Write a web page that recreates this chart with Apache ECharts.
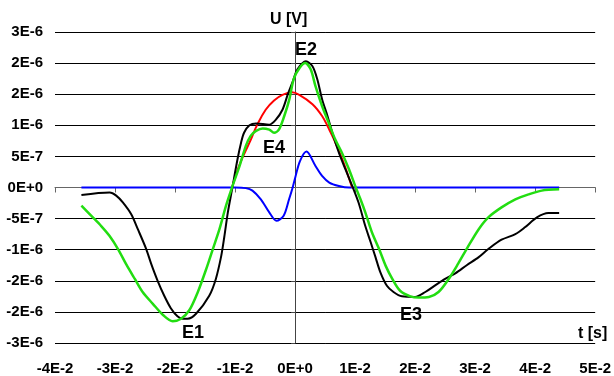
<!DOCTYPE html>
<html>
<head>
<meta charset="utf-8">
<script src="https://cdn.jsdelivr.net/npm/echarts@6/dist/echarts.min.js"></script>
<style>
html,body{margin:0;padding:0;background:#fff;}
#chart{width:614px;height:376px;}
</style>
</head>
<body>
<div id="chart"></div>
<script>
// time in units of 1E-2 s, voltage in units of 1E-6 V
var xTickLabels = ['-4E-2','-3E-2','-2E-2','-1E-2','0E+0','1E-2','2E-2','3E-2','4E-2','5E-2'];
var yTickLabels = ['-3E-6','-2E-6','-2E-6','-1E-6','-5E-7','0E+0','5E-7','1E-6','2E-6','2E-6','3E-6'];

var blueT = [-3.56,-1.0,-0.82,-0.71,-0.57,-0.43,-0.31,-0.19,-0.10,-0.04,0.0,0.08,0.19,0.34,0.45,0.57,0.73,0.9,4.4];
var blueU = [0,0,-0.01,-0.05,-0.19,-0.40,-0.535,-0.455,-0.19,0,0.15,0.42,0.577,0.346,0.186,0.08,0.025,0,0];

var redT = [-1.05,-0.92,-0.76,-0.63,-0.49,-0.35,-0.21,-0.05,0.07,0.29,0.45,0.56,0.65,0.80,0.95];
var redU = [0,0.38,0.72,1.01,1.25,1.40,1.49,1.53,1.49,1.34,1.15,0.95,0.77,0.42,0];

var blackT = [-3.56,-3.09,-2.98,-2.87,-2.73,-2.62,-2.48,-2.40,-2.29,-2.18,-2.07,-1.96,-1.87,-1.79,-1.65,-1.43,-1.32,-1.23,-1.18,-1.12,-1.05,-0.96,-0.90,-0.85,-0.76,-0.65,-0.43,-0.32,-0.21,-0.12,-0.04,0.04,0.18,0.29,0.37,0.45,0.54,0.62,0.73,0.84,0.95,1.06,1.17,1.26,1.34,1.42,1.53,1.64,1.78,2.0,2.17,2.34,2.50,2.67,2.86,3.06,3.22,3.44,3.67,3.83,4.03,4.22,4.40];
var blackU = [-0.12,-0.08,-0.13,-0.24,-0.43,-0.67,-0.99,-1.22,-1.50,-1.74,-1.94,-2.07,-2.11,-2.11,-2.03,-1.74,-1.47,-1.10,-0.80,-0.40,-0.03,0.45,0.72,0.88,1.0,1.03,1.01,1.09,1.25,1.50,1.70,1.90,2.03,1.95,1.74,1.42,1.15,0.88,0.56,0.29,0.03,-0.25,-0.62,-0.88,-1.12,-1.36,-1.58,-1.68,-1.75,-1.76,-1.68,-1.57,-1.47,-1.38,-1.25,-1.12,-0.99,-0.84,-0.75,-0.64,-0.48,-0.41,-0.41];

var greenT = [-3.56,-3.39,-3.23,-3.09,-2.95,-2.81,-2.67,-2.54,-2.37,-2.20,-2.04,-1.90,-1.76,-1.62,-1.48,-1.37,-1.26,-1.15,-1.04,-0.93,-0.82,-0.74,-0.65,-0.54,-0.43,-0.35,-0.27,-0.18,-0.10,-0.02,0.08,0.17,0.26,0.34,0.45,0.56,0.67,0.78,0.90,1.0,1.09,1.17,1.28,1.40,1.51,1.62,1.75,1.92,2.06,2.23,2.39,2.56,2.72,2.87,3.06,3.22,3.44,3.67,3.89,4.11,4.40];
var greenU = [-0.29,-0.46,-0.62,-0.78,-0.99,-1.24,-1.47,-1.68,-1.87,-2.05,-2.15,-2.11,-1.97,-1.68,-1.31,-0.99,-0.67,-0.29,0.03,0.33,0.67,0.83,0.91,0.95,0.93,0.88,0.93,1.15,1.40,1.75,1.93,2.0,1.90,1.63,1.31,1.04,0.77,0.56,0.29,0.03,-0.19,-0.40,-0.72,-0.99,-1.26,-1.47,-1.66,-1.75,-1.77,-1.76,-1.68,-1.47,-1.22,-0.97,-0.67,-0.48,-0.32,-0.19,-0.11,-0.05,-0.03];

function zip(a,b){return a.map(function(v,i){return [v,b[i]];});}

var X_MIN=-4, X_MAX=5, X_STEP=1;
var Y_MIN=-2.5, Y_MAX=2.5, Y_STEP=0.5;
var FONT='Arial, "Liberation Sans", sans-serif';

function xLab(v){var i=Math.round((v-X_MIN)/X_STEP);return xTickLabels[i]||'';}
function yLab(v){var i=Math.round((v-Y_MIN)/Y_STEP);return yTickLabels[i]||'';}

var chart = echarts.init(document.getElementById('chart'), null, {renderer:'canvas'});
chart.setOption({
  animation:false,
  backgroundColor:'#fff',
  grid:{left:55,right:17,top:32,bottom:32},
  xAxis:[
    {type:'value',min:X_MIN,max:X_MAX,interval:X_STEP,position:'bottom',
     axisLine:{show:false,onZero:false},axisTick:{show:false},splitLine:{show:false},
     axisLabel:{formatter:xLab,fontSize:15,fontWeight:'bold',color:'#000',fontFamily:FONT,margin:18}},
    {type:'value',min:X_MIN,max:X_MAX,interval:X_STEP,position:'top',
     axisLine:{show:true,onZero:true,lineStyle:{color:'#666',width:1}},
     axisTick:{show:true,inside:true,length:5,lineStyle:{color:'#666'}},
     axisLabel:{show:false},splitLine:{show:false}}
  ],
  yAxis:[
    {type:'value',min:Y_MIN,max:Y_MAX,interval:Y_STEP,position:'left',
     axisLine:{show:false,onZero:false},axisTick:{show:false},
     splitLine:{show:true,lineStyle:{color:'#000',width:1}},
     axisLabel:{formatter:yLab,fontSize:15,fontWeight:'bold',color:'#000',fontFamily:FONT,margin:12}},
    {type:'value',min:Y_MIN,max:Y_MAX,interval:Y_STEP,position:'right',
     axisLine:{show:true,onZero:true,lineStyle:{color:'#444',width:1}},
     axisTick:{show:true,inside:true,length:4,lineStyle:{color:'#444'}},
     axisLabel:{show:false},splitLine:{show:false}}
  ],
  series:[
    {type:'line',data:zip(blueT,blueU),showSymbol:false,smooth:0.3,lineStyle:{color:'#0000ff',width:2},itemStyle:{color:'#0000ff'}},
    {type:'line',data:zip(redT,redU),showSymbol:false,smooth:0.4,lineStyle:{color:'#ff0000',width:2},itemStyle:{color:'#ff0000'}},
    {type:'line',data:zip(blackT,blackU),showSymbol:false,smooth:0.3,lineStyle:{color:'#000000',width:2},itemStyle:{color:'#000'}},
    {type:'line',data:zip(greenT,greenU),showSymbol:false,smooth:0.3,lineStyle:{color:'#22dd11',width:2.5},itemStyle:{color:'#22dd11'}}
  ],
  graphic:[
    {type:'text',left:270,top:12,style:{text:'U [V]',font:'bold 16px '+FONT,fill:'#000'}},
    {type:'text',left:578,top:326,style:{text:'t [s]',font:'bold 16px '+FONT,fill:'#000'}},
    {type:'text',left:295,top:41,style:{text:'E2',font:'bold 18px '+FONT,fill:'#000'}},
    {type:'text',left:263,top:139,style:{text:'E4',font:'bold 18px '+FONT,fill:'#000'}},
    {type:'text',left:182,top:324,style:{text:'E1',font:'bold 18px '+FONT,fill:'#000'}},
    {type:'text',left:394,top:306,style:{text:'E3',font:'bold 18px '+FONT,fill:'#000',backgroundColor:'#fff',padding:[0,6]}}
  ]
});
</script>
</body>
</html>
